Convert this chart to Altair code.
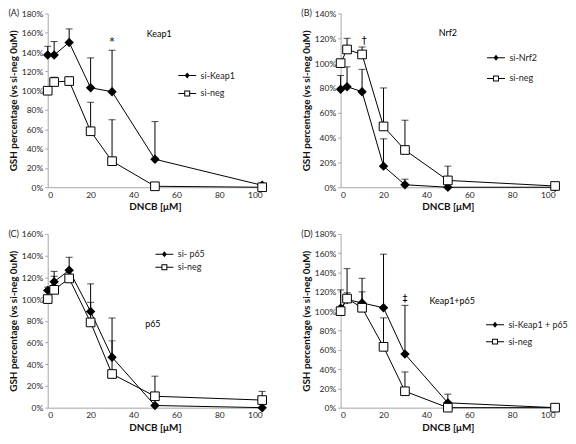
import altair as alt
import pandas as pd

conc = [0, 3, 10, 20, 30, 50, 100]

# Panel A: Keap1
a_treat_name = "si-Keap1"
a_treat = [137, 137, 150, 103, 99, 29, 2]
a_treat_err = [146, 151, 164, 134, 142, 68, 4]
a_neg = [100, 109, 110, 58, 27, 1, 0]
a_neg_err = [None, 114, None, 88, 70, None, None]
a_labels = [("Keap1", 52, 159)]
a_marks = [("*", 30, 150)]

# Panel B: Nrf2
b_treat_name = "si-Nrf2"
b_treat = [79, 81, 77, 17, 2, 0, 0]
b_treat_err = [90, 97, 95, 39, 6.5, None, None]
b_neg = [100, 111, 107, 49, 30, 5.5, 1]
b_neg_err = [None, 120, 113, 80, 54, 17, None]
b_labels = [("Nrf2", 50, 124)]
b_marks = [("\u2020", 11, 118)]

# Panel C: p65
c_treat_name = "si- p65"
c_treat = [108, 116, 126.5, 88.5, 46.5, 2, 0]
c_treat_err = [111, 125.5, 138.5, 114, 82.5, None, None]
c_neg = [100, 108.5, 119, 78.5, 31, 10.5, 7]
c_neg_err = [None, 121, None, 97, 61.5, 29, 15]
c_labels = [("p65", 49, 77)]
c_marks = []

# Panel D: Keap1+p65
d_treat_name = "si-Keap1 + p65"
d_treat = [103, 112, 108.5, 103.5, 55.5, 5, 0]
d_treat_err = [122, 119, 134, 159, 106, 14, None]
d_neg = [100, 113, 103.5, 63, 17, 0, 0]
d_neg_err = [None, 144, 120, 93, 37, None, None]
d_labels = [("Keap1+p65", 52, 110)]
d_marks = [("\u2021", 30, 113)]

W, H = 216, 175
FONT = "Lato"
AXIS_GRAY = "#a6a6a6"
# legend glyphs: line with marker (fill-only paths, unit square scaled by sqrt(size)/2)
DIAMOND_LEG = "M-3.6,-0.2H3.6V0.2H-3.6Z M0,-1.2L1,0L0,1.2L-1,0Z"
SQUARE_LEG = ("M-3.6,-0.2H-1.2V0.2H-3.6Z M1.2,-0.2H3.6V0.2H1.2Z "
              "M-1.2,-1.2H1.2V1.2H-1.2Z M-0.8,-0.8V0.8H0.8V-0.8Z")


def panel(letter, treat_name, treat, treat_err, neg, neg_err, ymax, labels, marks,
          leg_x, leg_y, leg_pad):
    rows = []
    for c, v, e in zip(conc, treat, treat_err):
        rows.append(dict(conc=c, value=v, upper=e, series=treat_name))
    for c, v, e in zip(conc, neg, neg_err):
        rows.append(dict(conc=c, value=v, upper=e, series="si-neg"))
    df = pd.DataFrame(rows)
    labels_df = pd.DataFrame(labels, columns=["label", "nx", "ny"])
    marks_df = pd.DataFrame(marks, columns=["label", "nx", "ny"])

    xaxis = alt.Axis(values=[0, 20, 40, 60, 80, 100], ticks=False, grid=False,
                     title="DNCB [\u03bcM]", labelPadding=3, titlePadding=3)
    yaxis = alt.Axis(values=list(range(0, ymax + 1, 20)), grid=False,
                     labelExpr="datum.value + '%'", tickSize=3,
                     labelPadding=2, titlePadding=3,
                     title="GSH percentage (vs si-neg 0uM)")
    xs = alt.Scale(domain=[0, 100], nice=False)
    ys = alt.Scale(domain=[0, ymax], nice=False)

    def X(f):
        return alt.X(f, scale=xs, axis=xaxis)

    def Y(f):
        return alt.Y(f, scale=ys, axis=yaxis)

    base = alt.Chart(df)
    err = base.transform_filter("isValid(datum.upper)").mark_rule(
        color="black", strokeWidth=1).encode(x=X("conc:Q"), y=Y("value:Q"), y2="upper:Q")
    cap = base.transform_filter("isValid(datum.upper)").mark_tick(
        orient="horizontal", size=7, thickness=1, color="black").encode(
        x=X("conc:Q"), y=Y("upper:Q"))
    line = base.mark_line(color="black", strokeWidth=1).encode(
        x=X("conc:Q"), y=Y("value:Q"), detail="series:N")
    dia = base.transform_filter(alt.datum.series == treat_name).mark_point(
        shape="diamond", filled=True, color="black", size=90, opacity=1).encode(
        x=X("conc:Q"), y=Y("value:Q"))
    sq = base.transform_filter(alt.datum.series == "si-neg").mark_point(
        shape="square", filled=True, fill="white", stroke="black", strokeWidth=1,
        size=76, opacity=1).encode(x=X("conc:Q"), y=Y("value:Q"))

    dom = [treat_name, "si-neg"]
    leg = alt.Legend(title=None, orient="none", legendX=leg_x, legendY=leg_y,
                     labelFont=FONT, labelFontSize=9, labelColor="#222",
                     symbolSize=25, symbolFillColor="black", symbolStrokeWidth=0,
                     labelOffset=9, rowPadding=leg_pad, padding=0)
    legend_layer = base.transform_filter("datum.conc < 0").mark_point(
        filled=True, color="black", strokeWidth=0, opacity=1, size=25).encode(
        x=X("conc:Q"), y=Y("value:Q"),
        shape=alt.Shape("series:N", scale=alt.Scale(domain=dom, range=[DIAMOND_LEG, SQUARE_LEG]), legend=leg))

    layers = [err, cap, line, dia, sq, legend_layer]
    layers.append(alt.Chart(labels_df).mark_text(font=FONT, fontSize=9, color="black").encode(
        x=X("nx:Q"), y=Y("ny:Q"), text="label:N"))
    if len(marks_df):
        layers.append(alt.Chart(marks_df).mark_text(font="DejaVu Sans", fontSize=10, color="black").encode(
            x=X("nx:Q"), y=Y("ny:Q"), text="label:N"))

    return alt.layer(*layers).properties(
        width=W, height=H,
        title=alt.TitleParams(text=f"({letter})", anchor="start", frame="bounds",
                              fontSize=9, fontWeight="normal", font=FONT,
                              color="#222", offset=-9))


pA = panel("A", a_treat_name, a_treat, a_treat_err, a_neg, a_neg_err, 180, a_labels, a_marks, 136, 58, 8)
pB = panel("B", b_treat_name, b_treat, b_treat_err, b_neg, b_neg_err, 140, b_labels, b_marks, 152, 40, 11)
pC = panel("C", c_treat_name, c_treat, c_treat_err, c_neg, c_neg_err, 160, c_labels, c_marks, 113, 16, 3)
pD = panel("D", d_treat_name, d_treat, d_treat_err, d_neg, d_neg_err, 180, d_labels, d_marks, 151, 87, 7)

indep = dict(shape="independent", x="independent", y="independent")
chart = alt.concat(
    pA, pB, pC, pD, columns=2,
    spacing=alt.RowColnumber(row=47, column=79), bounds="flush",
).resolve_scale(**indep).properties(padding=0).configure_view(stroke=None).configure_axis(
    domainColor=AXIS_GRAY, tickColor=AXIS_GRAY, labelFont=FONT, titleFont=FONT,
    labelFontSize=8.5, labelColor="#222", titleFontSize=10, titleFontWeight="bold",
    titleColor="#111")

chart.save("out.html", embed_options={"renderer": "svg", "actions": False})
